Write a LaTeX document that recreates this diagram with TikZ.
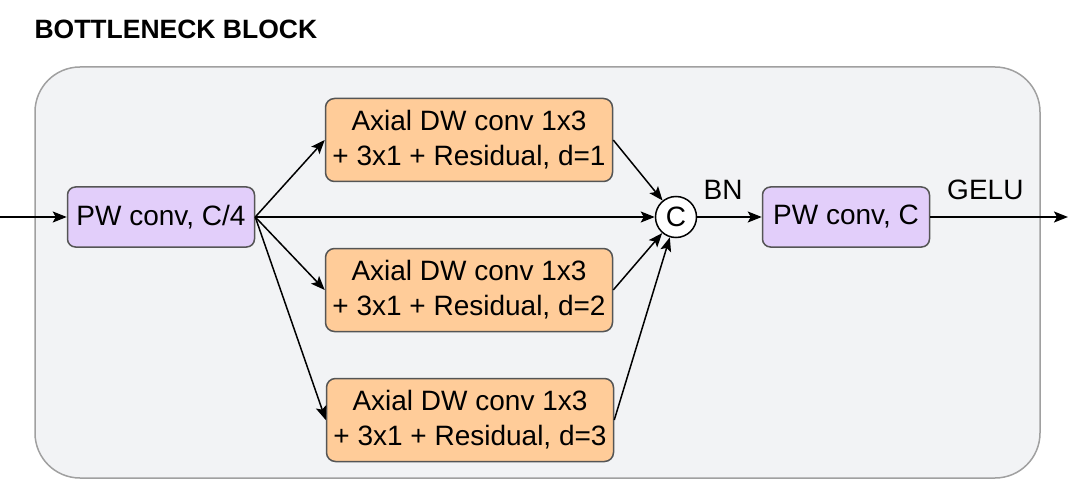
\documentclass[tikz,border=0pt]{standalone}
\usepackage{fontspec}
\setmainfont{Liberation Sans}
\usetikzlibrary{arrows.meta}

\definecolor{panelgray}{RGB}{242,243,245}
\definecolor{panelline}{RGB}{160,160,160}
\definecolor{pwpurple}{RGB}{226,206,250}
\definecolor{dworange}{RGB}{255,204,153}
\definecolor{boxline}{RGB}{85,85,85}

\begin{document}
\begin{tikzpicture}
      [x=1pt,y=-1pt
      ,font=\fontsize{28}{35}\selectfont
      ,panel/.style={draw=panelline,line width=1.5pt,fill=panelgray,rounded corners=45pt}
      ,pwbox/.style={draw=boxline,line width=1.5pt,fill=pwpurple,rounded corners=8pt,minimum width=187pt,minimum height=60pt,inner sep=0pt}
      ,dwbox/.style={draw=boxline,line width=1.5pt,fill=dworange,rounded corners=9pt,minimum width=287pt,minimum height=83pt,inner sep=0pt,align=center}
      ,catnode/.style={circle,draw=black,line width=1.5pt,fill=white,minimum size=41pt,inner sep=0pt}
      ,flow/.style={line width=1.5pt,-{Stealth[length=14pt,width=11pt,inset=3pt]}}
      ]
        \useasboundingbox (0,0) rectangle (1077,492);

        \node[font=\fontsize{26.5}{30}\selectfont\bfseries,anchor=west] (title) at (31,29) {BOTTLENECK BLOCK};
        \draw[panel] (35,67) rectangle (1040,478);

        \node[pwbox] (pwin) at (161,217) {PW conv, C/4};
        \node[dwbox] (dwa) at (469,140) {Axial DW conv 1x3\\+ 3x1 + Residual, d=1};
        \node[dwbox] (dwb) at (469,290) {Axial DW conv 1x3\\+ 3x1 + Residual, d=2};
        \node[dwbox] (dwc) at (470,420) {Axial DW conv 1x3\\+ 3x1 + Residual, d=3};
        \node[catnode] (cat) at (676,217) {C};
        \node[pwbox,minimum width=167pt] (pwout) at (846,217) {PW conv, C};

        \coordinate (in) at (0,217);
        \coordinate (out) at (1068,217);

        \draw[flow] (in) -- (pwin);
        \foreach \b in {dwa,dwb,dwc}{
            \draw[flow] (pwin.east) -- (\b.west);
            \draw[flow] (\b.east) -- (cat);
        }
        \draw[flow] (pwin.east) -- (cat);
        \draw[flow] (cat) -- node[pos=0.4,above=13pt] (bn) {BN} (pwout);
        \draw[flow] (pwout) -- node[pos=0.4,above=13pt] (gelu) {GELU} (out);

      \end{tikzpicture}
\end{document}
